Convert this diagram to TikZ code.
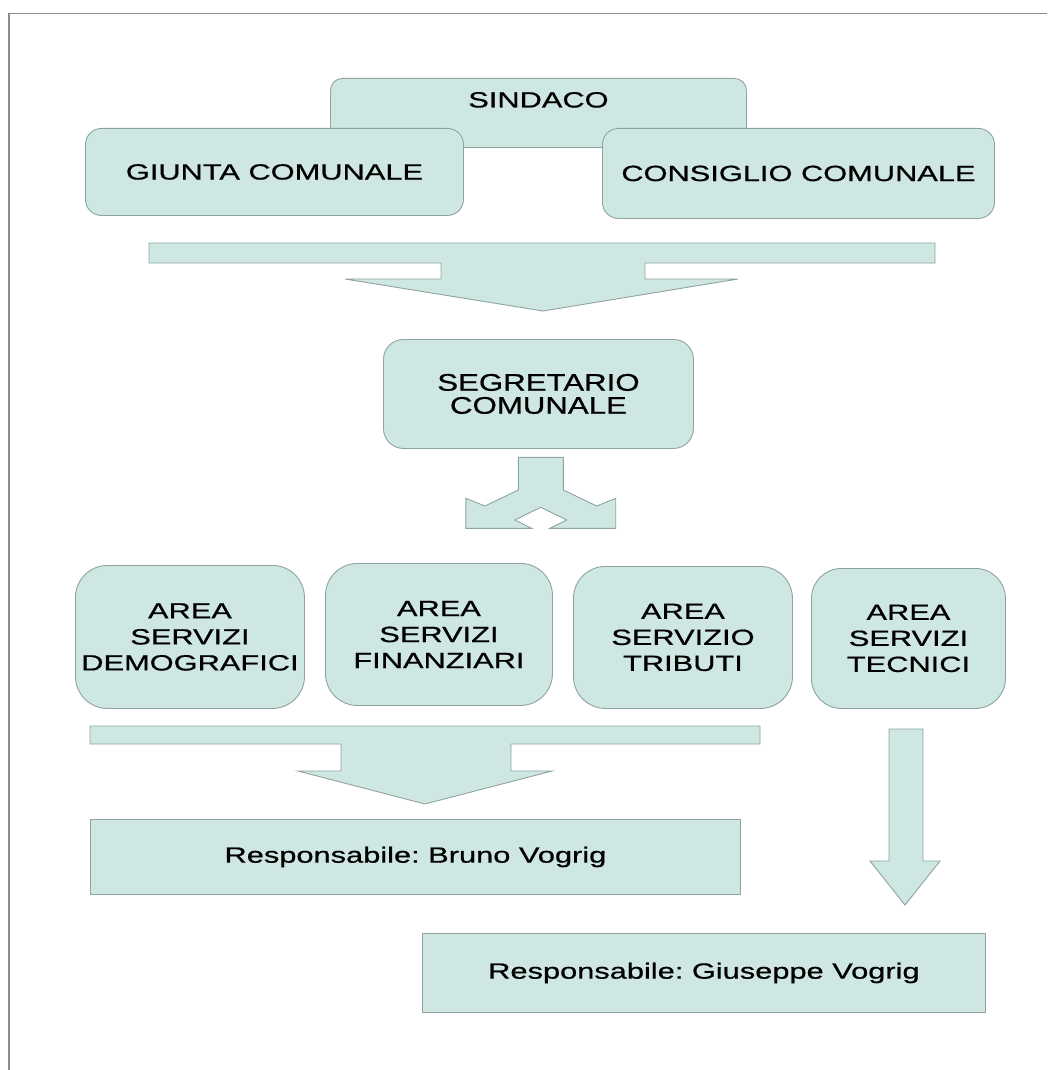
\documentclass[tikz,border=0pt]{standalone}
\usepackage{fontspec}
\newfontfamily\wfont[FakeStretch=1.4,FakeBold=0.7]{Liberation Sans}
\newfontfamily\sgfont[FakeStretch=1.3,FakeBold=0.7]{Liberation Sans}
\definecolor{boxfill}{HTML}{CFE7E3}
\definecolor{boxline}{HTML}{8FA3A0}
\definecolor{frameline}{HTML}{8C8C8C}
\frenchspacing
\begin{document}
\begin{tikzpicture}[x=1pt,y=-1pt,
  box/.style={draw=boxline, fill=boxfill, line width=0.9pt, anchor=north west,
    inner sep=0pt, align=center, font=\wfont\fontsize{22}{26}\selectfont},
  blockarrow/.style={draw=boxline, fill=boxfill, line width=0.9pt, line join=miter}]
\useasboundingbox (0,0) rectangle (1047,1070);
\draw[frameline, line width=1.5pt] (9,1070) -- (9,13.5) -- (1047,13.5);

% top level
\node[box, rounded corners=12pt, minimum width=416pt, minimum height=69pt,
      text height=16pt, text depth=27pt] (sindaco) at (330,78) {SINDACO};
\node[box, rounded corners=16pt, minimum width=378pt, minimum height=87pt] (giunta) at (85,128) {GIUNTA COMUNALE};
\node[box, rounded corners=16pt, minimum width=392pt, minimum height=90pt] (consiglio) at (602,128) {CONSIGLIO COMUNALE};

% big arrow 1
\draw[blockarrow] (149,243) -- (935,243) -- (935,263) -- (645,263) -- (645,279) -- (738,279)
  -- (543,311) -- (345,279) -- (441,279) -- (441,263) -- (149,263) -- cycle;

\node[box, rounded corners=20pt, minimum width=310pt, minimum height=109pt,
      font=\sgfont\fontsize{24}{23}\selectfont] (segr) at (383,339) {SEGRETARIO\\COMUNALE};

% split arrow
\draw[blockarrow] (518.3,457.3) -- (563.3,457.3) -- (563.3,490) -- (596.7,506) -- (615.7,498.3)
  -- (615.7,528.3) -- (550,528.3) -- (566.7,520) -- (540.8,507.3) -- (514.9,520) -- (531.6,528.3)
  -- (465.9,528.3) -- (465.9,498.3) -- (484.9,506) -- (518.3,490) -- cycle;

% areas
\node[box, rounded corners=32pt, minimum width=229pt, minimum height=143pt] (area1) at (75,565) {AREA\\SERVIZI\\DEMOGRAFICI};
\node[box, rounded corners=32pt, minimum width=227pt, minimum height=142pt] (area2) at (325,563) {AREA\\SERVIZI\\FINANZIARI};
\node[box, rounded corners=32pt, minimum width=219pt, minimum height=142pt] (area3) at (573,566) {AREA\\SERVIZIO\\TRIBUTI};
\node[box, rounded corners=30pt, minimum width=194pt, minimum height=140pt] (area4) at (811,568) {AREA\\SERVIZI\\TECNICI};

% lower arrows
\draw[blockarrow] (90,726) -- (760,726) -- (760,744) -- (511,744) -- (511,771) -- (552,771)
  -- (425,804) -- (298,771) -- (341,771) -- (341,744) -- (90,744) -- cycle;
\draw[blockarrow] (889,729) -- (923,729) -- (923,861) -- (940,861) -- (905,905) -- (870,861)
  -- (889,861) -- cycle;

% responsabili
\node[box, minimum width=650pt, minimum height=75pt] (bruno) at (90,819) {Responsabile: Bruno Vogrig};
\node[box, minimum width=563pt, minimum height=79pt] (giuseppe) at (422,933) {Responsabile: Giuseppe Vogrig};
\end{tikzpicture}
\end{document}
